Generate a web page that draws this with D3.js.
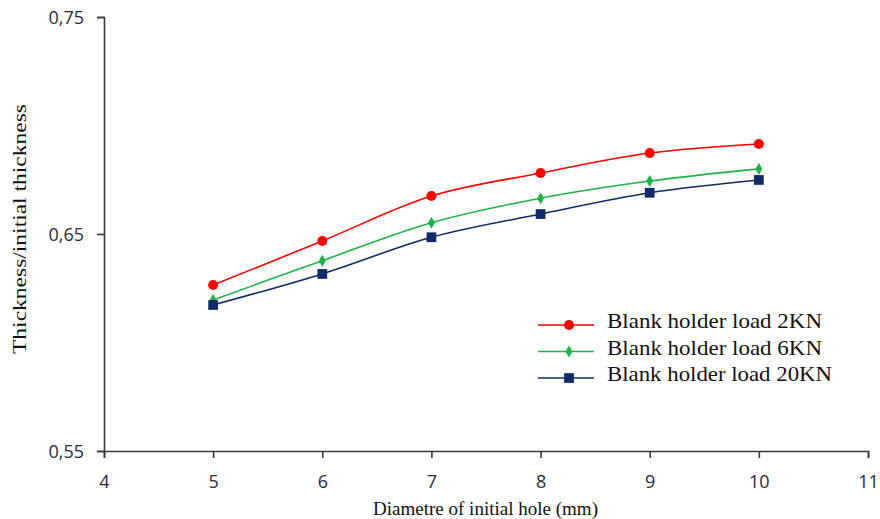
<!DOCTYPE html>
<html><head><meta charset="utf-8">
<script src="https://cdn.jsdelivr.net/npm/d3@7"></script>
<style>body{margin:0;background:#fff}</style>
</head><body>
<script>
const diameters = [5, 6, 7, 8, 9, 10];
const load2KN = [0.6265, 0.6468, 0.6675, 0.6781, 0.6873, 0.6915];
const load6KN = [0.6196, 0.6377, 0.6552, 0.6665, 0.6744, 0.6800];
const load20KN = [0.6173, 0.6316, 0.6485, 0.6592, 0.6690, 0.6749];
const xTicks = [4, 5, 6, 7, 8, 9, 10, 11];
const yTicks = [0.55, 0.65, 0.75];
const seriesNames = ["Blank holder load 2KN", "Blank holder load 6KN", "Blank holder load 20KN"];
const seriesColors = ["#ff0000", "#1fb24a", "#0f2a66"];
const seriesShapes = ["circle", "diamond", "square"];
const seriesValues = [load2KN, load6KN, load20KN];

const W = 880, H = 519;
const svg = d3.select("body").append("svg").attr("width", W).attr("height", H);
const x = d3.scaleLinear().domain([4, 11]).range([104, 868]);
const y = d3.scaleLinear().domain([0.55, 0.75]).range([451, 17]);

const fmt = d => d.toFixed(2).replace(".", ",");

const gx = svg.append("g").attr("transform", `translate(0,${y(0.55)})`)
  .call(d3.axisBottom(x).tickValues(xTicks).tickSize(7).tickPadding(14).tickFormat(d3.format("d")));
const gy = svg.append("g").attr("transform", `translate(${x(4)},0)`)
  .call(d3.axisLeft(y).tickValues(yTicks).tickSize(7).tickPadding(13).tickFormat(fmt));
[gx, gy].forEach(g => {
  g.select(".domain").attr("stroke", "#3a3a3a").attr("stroke-width", 1.6);
  g.selectAll(".tick line").attr("stroke", "#3a3a3a").attr("stroke-width", 1.6);
  g.selectAll(".tick text").attr("fill", "#2a2a3a").style("font-family", "'Open Sans', sans-serif").style("font-size", "18px");
});
gx.selectAll(".tick text").attr("dy", "0.9em");
gy.selectAll(".tick text").attr("dy", "0.35em");

const line = d3.line().x((d, i) => x(diameters[i])).y(d => y(d)).curve(d3.curveCatmullRom.alpha(0.5));
const sym = {
  circle: d3.symbol().type(d3.symbolCircle).size(80),
  diamond: d3.symbol().type(d3.symbolDiamond).size(42),
  square: d3.symbol().type(d3.symbolSquare).size(95)
};

seriesValues.forEach((vals, s) => {
  svg.append("path").datum(vals).attr("d", line).attr("fill", "none")
    .attr("stroke", seriesColors[s]).attr("stroke-width", 1.6);
  svg.selectAll(null).data(vals).enter().append("path")
    .attr("d", sym[seriesShapes[s]])
    .attr("transform", (d, i) => `translate(${x(diameters[i])},${y(d)})`)
    .attr("fill", seriesColors[s]);
});

// legend
const lg = svg.append("g");
seriesNames.forEach((n, s) => {
  const yy = 325 + s * 26.5;
  lg.append("line").attr("x1", 538).attr("x2", 594).attr("y1", yy).attr("y2", yy)
    .attr("stroke", seriesColors[s]).attr("stroke-width", 1.6);
  lg.append("path").attr("d", sym[seriesShapes[s]]).attr("transform", `translate(569,${yy})`).attr("fill", seriesColors[s]);
  lg.append("text").attr("x", 607).attr("y", yy + 3).text(n)
    .style("font-family", "'Liberation Serif', serif").style("font-size", "21px").attr("fill", "#111")
    .attr("textLength", s === 2 ? 225 : 215).attr("lengthAdjust", "spacingAndGlyphs");
});

svg.append("text").attr("x", 373).attr("y", 515)
  .style("font-family", "'Liberation Serif', serif").style("font-size", "19px").attr("fill", "#111")
  .attr("textLength", 225).attr("lengthAdjust", "spacingAndGlyphs")
  .text("Diametre of initial hole (mm)");
svg.append("text").attr("transform", "translate(26,354) rotate(-90)")
  .style("font-family", "'Liberation Serif', serif").style("font-size", "19.5px").attr("fill", "#111")
  .attr("textLength", 250).attr("lengthAdjust", "spacingAndGlyphs")
  .text("Thickness/initial thickness");
</script>
</body></html>
